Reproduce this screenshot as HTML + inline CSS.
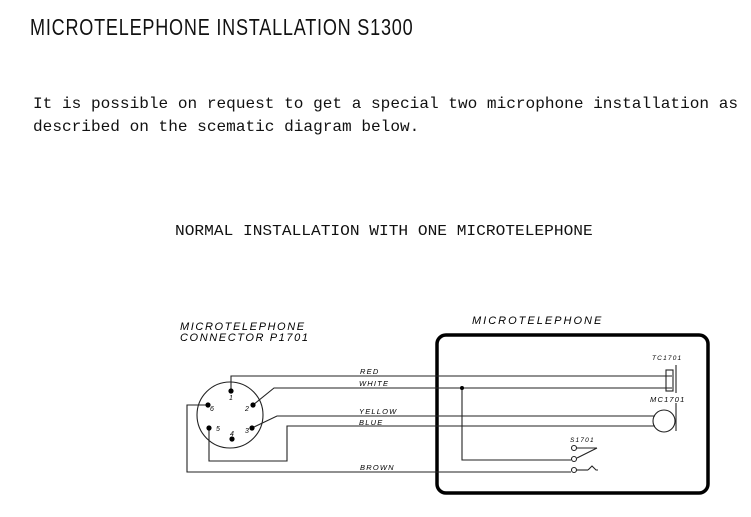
<!DOCTYPE html>
<html><head><style>
body{margin:0;width:751px;height:517px;background:#fff;overflow:hidden;position:relative;font-family:"Liberation Mono",monospace;color:#111}
.t{position:absolute;white-space:pre}
</style></head><body>
<div class="t" style="left:30px;top:14px;font-family:'Liberation Sans Narrow','Liberation Sans',sans-serif;font-size:23px;transform:scaleX(0.785);transform-origin:left;letter-spacing:1px">MICROTELEPHONE INSTALLATION S1300</div>
<div class="t" style="left:33px;top:95px;font-size:16.1px">It is possible on request to get a special two microphone installation as</div>
<div class="t" style="left:33px;top:118px;font-size:16.1px">described on the scematic diagram below.</div>
<div class="t" style="left:175px;top:223px;font-size:16.2px;transform:scaleY(0.92);transform-origin:top">NORMAL INSTALLATION WITH ONE MICROTELEPHONE</div>
<svg width="751" height="517" style="position:absolute;left:0;top:0" font-family="Liberation Sans, sans-serif" font-style="italic">
<g font-size="11" letter-spacing="1.6">
<text x="180" y="330">MICROTELEPHONE</text>
<text x="180" y="341">CONNECTOR P1701</text>
<text x="472" y="324" letter-spacing="2">MICROTELEPHONE</text>
</g>
<rect x="437" y="335" width="271" height="158" rx="9" fill="none" stroke="#000" stroke-width="3.5"/>
<g stroke="#222" stroke-width="1.1" fill="none">
<circle cx="230" cy="415" r="33"/>
<polyline points="231,391 231,376 672,376"/>
<polyline points="253,405 274,388 672,388"/>
<polyline points="252,428 277,416 655,416"/>
<polyline points="209,428 209,461 287,461 287,426 655,426"/>
<polyline points="208,405 187,405 187,472 571,472"/>
<polyline points="462,388 462,460 571,460"/>
<line x1="577" y1="448" x2="597" y2="448"/>
<line x1="577" y1="458" x2="597" y2="448"/>
<line x1="577" y1="470" x2="588" y2="470"/>
<path d="M588 470 L592 466 L596 470 L598 470"/>
<circle cx="574" cy="448" r="2.5"/>
<circle cx="574" cy="459" r="2.5"/>
<circle cx="574" cy="470" r="2.5"/>
<rect x="666" y="370" width="7" height="21"/>
<line x1="676" y1="365" x2="676" y2="393"/>
<circle cx="664" cy="421" r="11"/>
<line x1="676" y1="403" x2="676" y2="431"/>
</g>
<g fill="#000">
<circle cx="231" cy="391" r="2.6"/><circle cx="253" cy="405" r="2.6"/><circle cx="208" cy="405" r="2.6"/>
<circle cx="209" cy="428" r="2.6"/><circle cx="252" cy="428" r="2.6"/><circle cx="232" cy="439" r="2.6"/>
<circle cx="462" cy="388" r="2"/>
</g>
<g font-size="7">
<text x="229" y="400">1</text><text x="245" y="411">2</text><text x="210" y="411">6</text>
<text x="216" y="431">5</text><text x="245" y="433">3</text><text x="230" y="436">4</text>
</g>
<g font-size="7.5" letter-spacing="1.2">
<text x="360" y="374">RED</text><text x="359" y="386">WHITE</text>
<text x="359" y="414">YELLOW</text><text x="359" y="425">BLUE</text>
<text x="360" y="470">BROWN</text>
<text x="652" y="360" font-size="6.5">TC1701</text>
<text x="650" y="402">MC1701</text>
<text x="570" y="442" font-size="6.5">S1701</text>
</g>
</svg>
</body></html>
